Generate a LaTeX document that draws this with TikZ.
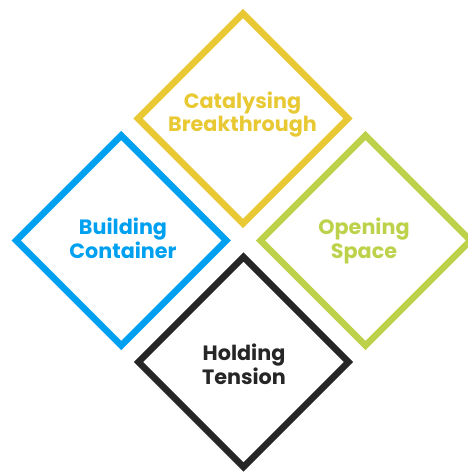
\documentclass[tikz,border=0pt]{standalone}
\usepackage{fontspec}
\setmainfont{Poppins}
\usetikzlibrary{shapes.geometric}
\definecolor{cyel}{HTML}{E8C934}
\definecolor{cblue}{HTML}{00A0F0}
\definecolor{cgreen}{HTML}{BDD24A}
\definecolor{cblack}{HTML}{262626}
\begin{document}
\begin{tikzpicture}[x=1bp,y=-1bp,
  dia/.style={diamond, aspect=1, inner sep=0pt, outer sep=0pt,
    minimum width=210bp, minimum height=210bp,
    line width=6.5bp, line join=miter, draw},
  lab/.style={font=\bfseries\fontsize{20.8}{24}\selectfont, align=center, anchor=base, inner sep=0pt}]
\useasboundingbox (0,0) rectangle (468,472);
\clip (0,0) rectangle (468,472);
\node[dia, draw=cyel]   (dy) at (243,118.5) {};
\node[dia, draw=cblue]  (db) at (121.3,240.5) {};
\node[dia, draw=cgreen] (dg) at (365.5,240.5) {};
\node[dia, draw=cblack] (dk) at (243.5,362) {};
\node[lab, text=cyel]   (ty) at (242.5,132) {Catalysing\\Breakthrough};
\node[lab, text=cblue]  (tb) at (123,258) {Building\\Container};
\node[lab, text=cgreen] (tg) at (364,258) {Opening\\Space};
\node[lab, text=cblack] (tk) at (244,384.5) {Holding\\Tension};
\end{tikzpicture}
\end{document}
